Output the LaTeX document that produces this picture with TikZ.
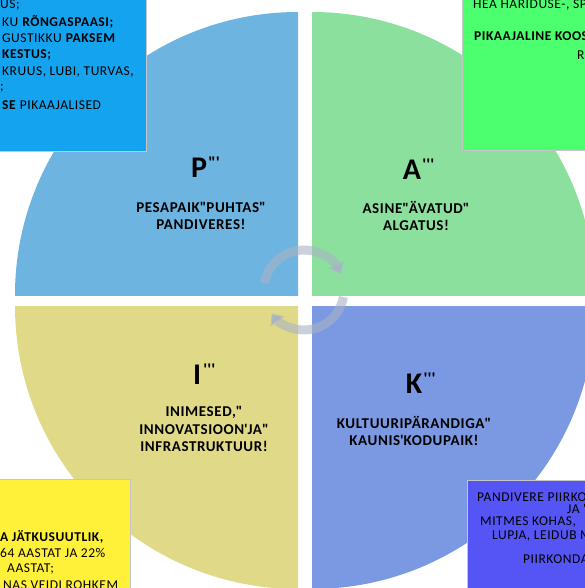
\documentclass[tikz,border=0pt]{standalone}
\usepackage{fontspec}
\setmainfont{Carlito}[LetterSpace=4]
\usepackage{tikz}
\usetikzlibrary{arrows.meta, positioning, calc}
\definecolor{quadblue}{HTML}{6EB4E0}
\definecolor{quadgreen}{HTML}{8CE09E}
\definecolor{quadyellow}{HTML}{E0DA88}
\definecolor{quadviolet}{HTML}{7B98E2}
\definecolor{noteblue}{HTML}{13A3EF}
\definecolor{notegreen}{HTML}{4CFF6E}
\definecolor{noteyellow}{HTML}{FFF03A}
\definecolor{noteviolet}{HTML}{5555F5}
\definecolor{arrowgrey}{HTML}{A9B3C4}
\newcommand{\sq}{\textquotesingle}
\newcommand{\dq}{\textquotedbl}

\begin{document}
\begin{tikzpicture}[
  x=1pt, y=-1pt,
  quad/.style={fill=#1},
  letter/.style={font=\fontsize{30}{30}\selectfont\bfseries, inner sep=0pt},
  marks/.style={font=\fontsize{17}{17}\selectfont\bfseries, inner sep=0pt, anchor=north west},
  caption/.style={font=\fontsize{15}{17.5}\selectfont\bfseries, align=center, inner sep=0pt},
  note/.style={draw=gray!45, line width=0.8pt, fill=#1},
  notetext/.style={font=\fontsize{13.5}{16}\selectfont, anchor=west, inner sep=0pt},
  cyclearrow/.style={line width=9pt, draw=arrowgrey, draw opacity=0.6, -{Triangle[width=17pt, length=10pt]}}
]
  \useasboundingbox (0,0) rectangle (585,588);
  \clip (0,0) rectangle (585,588);

  % Quadrants of the circle
  \begin{scope}
    \clip (298,295) rectangle (0,0);
    \fill[quad=quadblue] (298,295) circle[radius=283];
  \end{scope}
  \begin{scope}
    \clip (312,295) rectangle (600,0);
    \fill[quad=quadgreen] (312,295) circle[radius=283];
  \end{scope}
  \begin{scope}
    \clip (298,306) rectangle (0,600);
    \fill[quad=quadyellow] (298,306) circle[radius=283];
  \end{scope}
  \begin{scope}
    \clip (312,306) rectangle (600,600);
    \fill[quad=quadviolet] (312,306) circle[radius=283];
  \end{scope}

  % Cycle arrows in the middle
  \coordinate (hub) at (304,290);
  \draw[cyclearrow] (hub) ++(-170:40) arc[start angle=-170, end angle=-24, radius=40];
  \draw[cyclearrow] (hub) ++(10:40) arc[start angle=10, end angle=144, radius=40];

  % P quadrant
  \node[letter] (pletter) at (199,168) {P};
  \node[marks] (pmarks) at ([xshift=1pt, yshift=1pt]pletter.north east) {\dq\sq};
  \node[caption] (pcaption) at (201,216) {PESAPAIK\dq PUHTAS\dq\\PANDIVERES!};

  % A quadrant
  \node[letter] (aletter) at (412,170) {A};
  \node[marks] (amarks) at ([xshift=1pt, yshift=1pt]aletter.north east) {\sq\sq\sq};
  \node[caption] (acaption) at (416,216) {ASINE\dq ÄVATUD\dq\\ALGATUS!};

  % I quadrant
  \node[letter] (iletter) at (197,375) {I};
  \node[marks] (imarks) at ([xshift=2pt, yshift=1pt]iletter.north east) {\sq\sq\sq};
  \node[caption] (icaption) at (204,429) {INIMESED,\dq\\INNOVATSIOON\sq JA\dq\\INFRASTRUKTUUR!};

  % K quadrant
  \node[letter] (kletter) at (414,384) {K};
  \node[marks] (kmarks) at ([xshift=1pt, yshift=1pt]kletter.north east) {\sq\sq\sq};
  \node[caption] (kcaption) at (414,431) {KULTUURIPÄRANDIGA\dq\\KAUNIS\sq KODUPAIK!};

  % Top left note
  \fill[note=noteblue] (-2,-2) rectangle (146,151);
  \node[notetext] (tl1) at (0,5) {US;};
  \node[notetext] (tl2) at (2,22) {KU \textbf{RÕNGASPAASI;}};
  \node[notetext] (tl3) at (2,38) {GUSTIKKU \textbf{PAKSEM}};
  \node[notetext] (tl4) at (2,55) {\textbf{KESTUS;}};
  \node[notetext] (tl5) at (2,72) {KRUUS, LUBI, TURVAS,};
  \node[notetext] (tl6) at (0,88) {;};
  \node[notetext] (tl7) at (2,105) {\textbf{SE} PIKAAJALISED};

  % Top right note
  \fill[note=notegreen] (462,-2) rectangle (590,150);
  \node[notetext] (tr1) at (473,5) {HEA HARIDUSE-, SP};
  \node[notetext] (tr2) at (474,36) {\textbf{PIKAAJALINE KOOS}};
  \node[notetext] (tr3) at (577,55) {RA};

  % Bottom left note
  \fill[note=noteyellow] (-2,479) rectangle (130,590);
  \node[notetext] (bl1) at (0,537) {\textbf{A JÄTKUSUUTLIK,}};
  \node[notetext] (bl2) at (0,553) {64 AASTAT JA 22\%};
  \node[notetext] (bl3) at (7,569) {AASTAT;};
  \node[notetext] (bl4) at (3,585) {NAS VEIDI ROHKEM};

  % Bottom right note
  \fill[note=noteviolet] (467,480) rectangle (590,590);
  \node[notetext] (br1) at (477,497) {PANDIVERE PIIRKO};
  \node[notetext] (br2) at (567,509) {JA \sq};
  \node[notetext] (br3) at (480,522) {MITMES KOHAS,};
  \node[notetext] (br4) at (492,536) {LUPJA, LEIDUB M};
  \node[notetext] (br5) at (523,559) {PIIRKONDA};
\end{tikzpicture}
\end{document}
